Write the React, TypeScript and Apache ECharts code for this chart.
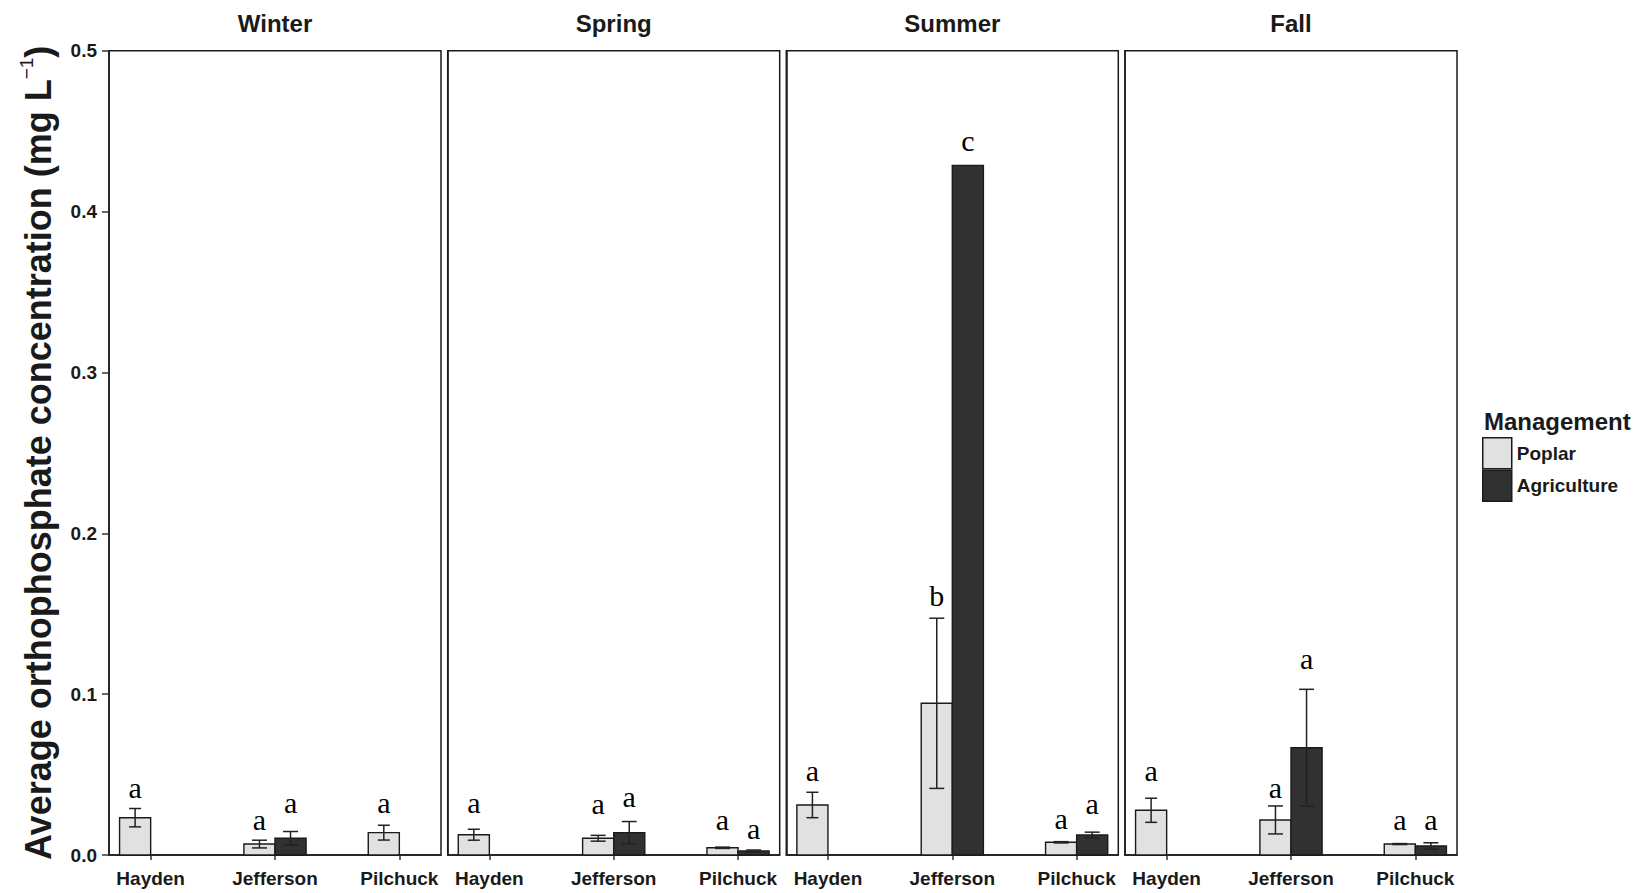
import React, { useEffect, useRef } from "react";
import * as echarts from "echarts";

// ---------- data ----------
const seasons = ["Winter", "Spring", "Summer", "Fall"];
const sites = ["Hayden", "Jefferson", "Pilchuck"];
const yTicks = [0, 0.1, 0.2, 0.3, 0.4, 0.5];
const managements = ["Poplar", "Agriculture"];

// per season: [Hayden, Jefferson, Pilchuck]
const poplarMean = [
  [0.0232, 0.0068, 0.0139],
  [0.0126, 0.0104, 0.0045],
  [0.0311, 0.0943, 0.0079],
  [0.0278, 0.0218, 0.0068],
];
const poplarSE = [
  [0.0057, 0.0024, 0.0046],
  [0.0034, 0.0018, 0.0004],
  [0.0079, 0.0529, 0.0004],
  [0.0075, 0.0087, 0.0003],
];
const agriMean = [
  [null, 0.0104, null],
  [null, 0.0139, 0.0025],
  [null, 0.4287, 0.0124],
  [null, 0.0667, 0.0056],
];
const agriSE = [
  [null, 0.0042, null],
  [null, 0.0069, 0.0006],
  [null, null, 0.0018],
  [null, 0.0363, 0.002],
];
const poplarLetter = [
  ["a", "a", "a"],
  ["a", "a", "a"],
  ["a", "b", "a"],
  ["a", "a", "a"],
];
const agriLetter = [
  [null, "a", null],
  [null, "a", "a"],
  [null, "c", "a"],
  [null, "a", "a"],
];
const poplarLetterY = [
  [0.0404, 0.0201, 0.0305],
  [0.0305, 0.03, 0.0201],
  [0.0504, 0.1595, 0.0207],
  [0.0504, 0.0404, 0.0205],
];
const agriLetterY = [
  [null, 0.0305, null],
  [null, 0.0346, 0.0145],
  [null, 0.4423, 0.0303],
  [null, 0.12, 0.0205],
];

// ---------- layout / style ----------
const PANEL_LEFT = [109, 447.7, 786.3, 1125];
const PANEL_W = 332;
const PANEL_TOP = 50.7;
const PANEL_H = 804.3;
const SANS = '"Liberation Sans", Arial, sans-serif';
const SERIF = '"Liberation Serif", "Times New Roman", serif';
const FILLS = ["#e1e1e1", "#313131"];
const INK = "#1a1a1a";

function makeSeries(mi: number, si: number) {
  const means = mi === 0 ? poplarMean : agriMean;
  const ses = mi === 0 ? poplarSE : agriSE;
  const letters = mi === 0 ? poplarLetter : agriLetter;
  const letterYs = mi === 0 ? poplarLetterY : agriLetterY;
  const offset = mi === 0 ? -0.125 : 0.125;
  const items: number[][] = [];
  const lets: (string | null)[] = [];
  const paired: boolean[] = [];
  means[si].forEach((m: any, i: number) => {
    if (m == null) return;
    const se = ses[si][i];
    const ly = letterYs[si][i];
    items.push([i + 1 + offset, m, se == null ? 0 : se, ly == null ? -1 : ly]);
    lets.push(letters[si][i]);
    paired.push(poplarMean[si][i] != null && agriMean[si][i] != null);
  });
  return {
    type: "custom",
    name: managements[mi],
    coordinateSystem: "cartesian2d",
    xAxisIndex: si,
    yAxisIndex: si,
    itemStyle: { color: FILLS[mi] },
    encode: { x: 0, y: 1 },
    data: items,
    renderItem: (params: any, api: any) => {
      const x = api.value(0);
      const m = api.value(1);
      const se = api.value(2);
      const ly = api.value(3);
      const base = api.coord([x - 0.125, 0]);
      const top = api.coord([x + 0.125, m]);
      const cx = api.coord([x, m])[0];
      const children: any[] = [
        {
          type: "rect",
          shape: { x: base[0], y: top[1], width: top[0] - base[0], height: base[1] - top[1] },
          style: { fill: FILLS[mi], stroke: INK, lineWidth: 1.4 },
        },
      ];
      if (se > 0) {
        const yHi = api.coord([x, m + se])[1];
        const yLo = api.coord([x, m - se])[1];
        const half = paired[params.dataIndex] ? 7.5 : 6;
        const st = { stroke: "#222", lineWidth: 1.5 };
        children.push(
          { type: "line", shape: { x1: cx, y1: yHi, x2: cx, y2: yLo }, style: st },
          { type: "line", shape: { x1: cx - half, y1: yHi, x2: cx + half, y2: yHi }, style: st },
          { type: "line", shape: { x1: cx - half, y1: yLo, x2: cx + half, y2: yLo }, style: st }
        );
      }
      const letter = lets[params.dataIndex];
      if (letter && ly >= 0) {
        const p = api.coord([x, ly]);
        children.push({
          type: "text",
          x: p[0],
          y: p[1] - 3,
          style: {
            text: letter,
            fontSize: 30,
            fontFamily: SERIF,
            fill: "#000",
            align: "center",
            verticalAlign: "middle",
          },
        });
      }
      return { type: "group", children };
    },
  };
}

export default function App() {
  const ref = useRef<HTMLDivElement>(null);
  useEffect(() => {
    if (!ref.current) return;
    const chart = echarts.init(ref.current, null, { renderer: "svg" });
    const grids = seasons.map((_, i) => ({
      left: PANEL_LEFT[i],
      top: PANEL_TOP,
      width: PANEL_W,
      height: PANEL_H,
      show: true,
      backgroundColor: "#fff",
      borderColor: INK,
      borderWidth: 1.5,
      containLabel: false,
      outerBoundsMode: "none",
    }));
    const xAxes = seasons.map((_, i) => ({
      type: "value",
      gridIndex: i,
      min: 0.665,
      max: 3.335,
      splitLine: { show: false },
      axisLine: { show: true, onZero: false, lineStyle: { color: INK, width: 1.5 } },
      axisTick: {
        show: true,
        length: 5,
        customValues: [1, 2, 3],
        lineStyle: { color: "#333", width: 1.5 },
      },
      axisLabel: {
        show: true,
        customValues: [1, 2, 3],
        formatter: (v: number) => sites[Math.round(v) - 1] || "",
        margin: 14,
        fontFamily: SANS,
        fontWeight: "bold",
        fontSize: 19,
        color: INK,
      },
    }));
    const yAxes = seasons.map((_, i) => ({
      type: "value",
      gridIndex: i,
      min: yTicks[0],
      max: yTicks[yTicks.length - 1],
      interval: 0.1,
      splitLine: { show: false },
      axisLine: { show: true, lineStyle: { color: INK, width: 1.5 } },
      axisTick: { show: i === 0, length: 7, lineStyle: { color: "#333", width: 1.5 } },
      axisLabel: {
        show: i === 0,
        formatter: (v: number) => v.toFixed(1),
        margin: 12,
        fontFamily: SANS,
        fontWeight: "bold",
        fontSize: 19,
        color: INK,
      },
      name:
        i === 0
          ? "{m|Average orthophosphate concentration (mg L}{s|−1}{m|)}"
          : "",
      nameLocation: "middle",
      nameRotate: 90,
      nameGap: 50,
      nameTextStyle: {
        rich: {
          m: { fontFamily: SANS, fontWeight: "bold", fontSize: 36, color: INK, lineHeight: 42 },
          s: { fontFamily: SANS, fontWeight: "normal", fontSize: 19, color: INK, verticalAlign: "top" },
        },
      },
    }));
    const series: any[] = [];
    seasons.forEach((_, si) => {
      series.push(makeSeries(0, si));
      series.push(makeSeries(1, si));
    });
    const graphic: any[] = seasons.map((s, i) => ({
      type: "text",
      x: PANEL_LEFT[i] + PANEL_W / 2,
      y: 23.3,
      style: {
        text: s,
        fontFamily: SANS,
        fontWeight: "bold",
        fontSize: 24,
        fill: INK,
        align: "center",
        verticalAlign: "middle",
      },
    }));
    graphic.push({
      type: "text",
      x: 1484,
      y: 421,
      style: {
        text: "Management",
        fontFamily: SANS,
        fontWeight: "bold",
        fontSize: 24,
        fill: INK,
        align: "left",
        verticalAlign: "middle",
      },
    });
    chart.setOption({
      animation: false,
      backgroundColor: "#fff",
      grid: grids,
      xAxis: xAxes,
      yAxis: yAxes,
      series,
      graphic,
      legend: {
        orient: "vertical",
        left: 1482,
        top: 437,
        itemWidth: 29,
        itemHeight: 31,
        itemGap: 0,
        padding: 0,
        selectedMode: false,
        icon: "rect",
        textStyle: { fontFamily: SANS, fontWeight: "bold", fontSize: 19, color: INK },
        data: [
          { name: "Poplar", icon: "rect", itemStyle: { color: FILLS[0], borderColor: INK, borderWidth: 1.5 } },
          { name: "Agriculture", icon: "rect", itemStyle: { color: FILLS[1], borderColor: INK, borderWidth: 1.5 } },
        ],
      },
    });
    return () => chart.dispose();
  }, []);
  return (
    <div
      ref={ref}
      style={{ position: "fixed", left: 0, top: 0, width: 1638, height: 893, background: "#fff" }}
    />
  );
}
